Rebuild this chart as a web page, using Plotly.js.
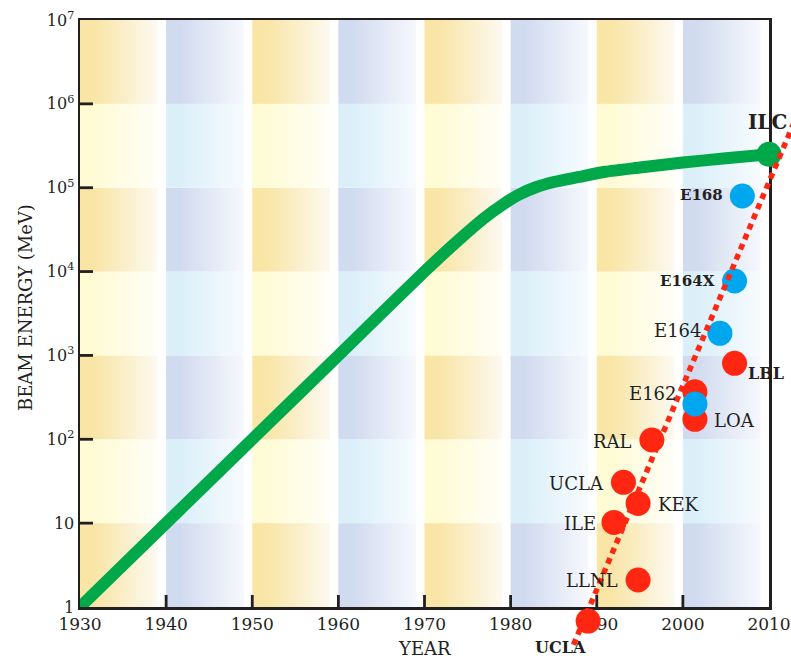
<!DOCTYPE html>
<html><head><meta charset="utf-8">
<script src="https://cdn.plot.ly/plotly-3.0.1.min.js"></script>
<style>html,body{margin:0;padding:0;background:#fff}</style>
</head><body><div id="chart" style="width:791px;height:658px"></div>
<script>
// ---------- data ----------
const yearTicks = [1930, 1940, 1950, 1960, 1970, 1980, 1990, 2000, 2010];
const energyTicks = [1, 10, 100, 1e3, 1e4, 1e5, 1e6, 1e7];
const energyTickText = ['1', '10', '10<sup>2</sup>', '10<sup>3</sup>', '10<sup>4</sup>', '10<sup>5</sup>', '10<sup>6</sup>', '10<sup>7</sup>'];

const envelopeYears  = [1930, 1940, 1950, 1960, 1970, 1974, 1977, 1979, 1981, 1983, 1985, 1988, 1991, 1995, 2000, 2005, 2010];
const envelopeEnergy = [1, 10, 100, 1000, 1e4, 2.4e4, 4.4e4, 6.2e4, 8.3e4, 1.02e5, 1.17e5, 1.35e5, 1.55e5, 1.74e5, 2.0e5, 2.24e5, 2.5e5];

const ilcNames  = ['ILC'];
const ilcYears  = [2010];
const ilcEnergy = [2.5e5];

const laserNames  = ['UCLA', 'LLNL', 'ILE', 'KEK', 'UCLA', 'RAL', 'LOA', '', 'LBL'];
const laserYears  = [1989.0, 1994.8, 1992.0, 1994.8, 1993.1, 1996.4, 2001.4, 2001.4, 2006.0];
const laserEnergy = [0.68, 2.1, 10.2, 17.2, 30.7, 98, 173, 369, 805];

const beamNames  = ['E162', 'E164', 'E164X', 'E168'];
const beamYears  = [2001.4, 2004.3, 2006.0, 2006.9];
const beamEnergy = [264, 1836, 7720, 79600];

const trendYears  = [1987.3, 2013];
const trendEnergy = [0.355, 6.3e5];

// ---------- styling / layout helpers ----------
const W = 791, H = 658;
const frame = {l: 80, r: 769, t: 20, b: 607};
const xDom = [frame.l / W, frame.r / W];
const yDom = [(H - frame.b) / H, (H - frame.t) / H];
const xR = [1930, 2010], yR = [0, 7];
const FONT = 'DejaVu Serif, Liberation Serif, serif';
const INK = '#231f20';
const RED = '#ff2712', BLUE = '#00a7ee', GREEN = '#00a84a';

// full-figure axes with identical scale (marks that leave the frame)
const xs = (xR[1] - xR[0]) / (xDom[1] - xDom[0]);
const ys = (yR[1] - yR[0]) / (yDom[1] - yDom[0]);
const x2R = [xR[0] - xDom[0] * xs, xR[1] + (1 - xDom[1]) * xs];
const y2R = [yR[0] - yDom[0] * ys, yR[1] + (1 - yDom[1]) * ys];

// background: decade columns (yellow / blue) x decade rows (dark / light), horizontal gradients
function backgroundSVG() {
  const cw = 100, rh = 100, nc = (xR[1] - xR[0]) / 10, nr = yR[1] - yR[0];
  const pal = {
    yd: ['#f9e5a6', '#fcf9f0'], yl: ['#fefbd5', '#fffef8'],
    bd: ['#d1dbef', '#f6f8fd'], bl: ['#dbeff9', '#f7fbfe']
  };
  let defs = '', rects = '';
  Object.keys(pal).forEach(k => {
    defs += `<linearGradient id="${k}" x1="0" x2="1" y1="0" y2="0">` +
      `<stop offset="0" stop-color="${pal[k][0]}"/><stop offset="0.18" stop-color="${pal[k][0]}"/>` +
      `<stop offset="1" stop-color="${pal[k][1]}"/></linearGradient>`;
  });
  for (let c = 0; c < nc; c++) {
    for (let r = 0; r < nr; r++) {
      const key = (c % 2 === 0 ? 'y' : 'b') + (r % 2 === 0 ? 'd' : 'l');
      const y = (nr - 1 - r) * rh;
      rects += `<rect x="${c * cw}" y="${y}" width="${cw * 0.9}" height="${rh}" fill="url(#${key})"/>`;
    }
  }
  const svg = `<svg xmlns="http://www.w3.org/2000/svg" width="${nc * cw}" height="${nr * rh}" viewBox="0 0 ${nc * cw} ${nr * rh}" preserveAspectRatio="none"><defs>${defs}</defs>${rects}</svg>`;
  return 'data:image/svg+xml;charset=utf-8,' + encodeURIComponent(svg);
}

// inside tick marks, built from the tick arrays and the axis scale
const X_TICKLEN = 12, Y_TICKLEN = 13;
const pxPerYear = (frame.r - frame.l) / (xR[1] - xR[0]);
const pxPerDecade = (frame.b - frame.t) / (yR[1] - yR[0]);
const tickX = [], tickY = [];
yearTicks.slice(1, -1).forEach(t => { tickX.push(t, t, null); tickY.push(energyTicks[0], energyTicks[0] * Math.pow(10, X_TICKLEN / pxPerDecade), null); });
energyTicks.slice(1, -1).forEach(v => { tickX.push(xR[0], xR[0] + Y_TICKLEN / pxPerYear, null); tickY.push(v, v, null); });

// ---------- traces ----------
const traces = [
  {x: envelopeYears, y: envelopeEnergy, type: 'scatter', mode: 'lines',
   line: {color: GREEN, width: 12, shape: 'spline', smoothing: 0.6}, hoverinfo: 'skip', xaxis: 'x', yaxis: 'y'},
  {x: tickX, y: tickY, type: 'scatter', mode: 'lines', connectgaps: false,
   line: {color: INK, width: 2.8}, hoverinfo: 'skip', xaxis: 'x2', yaxis: 'y2'},
  {x: laserYears, y: laserEnergy, type: 'scatter', mode: 'markers',
   marker: {color: RED, size: 25, line: {width: 0}}, xaxis: 'x2', yaxis: 'y2'},
  {x: beamYears, y: beamEnergy, type: 'scatter', mode: 'markers',
   marker: {color: BLUE, size: 25, line: {width: 0}}, xaxis: 'x2', yaxis: 'y2'},
  {x: ilcYears, y: ilcEnergy, type: 'scatter', mode: 'markers',
   marker: {color: GREEN, size: 25, line: {width: 0}}, xaxis: 'x2', yaxis: 'y2'},
  {x: trendYears, y: trendEnergy, type: 'scatter', mode: 'lines',
   line: {color: RED, width: 5.5, dash: '6px,5px'}, xaxis: 'x2', yaxis: 'y2'}
];

// ---------- point labels ----------
const laserLabelStyle = [
  {a: 'center', dx: -28, dy: -26, size: 16, bold: true},
  {a: 'right', dx: -19, dy: -1}, {a: 'right', dx: -17, dy: -1},
  {a: 'left', dx: 19, dy: -1}, {a: 'right', dx: -18, dy: -1},
  {a: 'right', dx: -19, dy: -1}, {a: 'left', dx: 18, dy: -1}, null,
  {a: 'left', dx: 12, dy: -10, size: 16, bold: true}
];
const beamLabelStyle = [
  {a: 'right', dx: -17, dy: 10}, {a: 'right', dx: -17, dy: 3},
  {a: 'right', dx: -19, dy: 0, size: 15, bold: true}, {a: 'right', dx: -18, dy: 1, size: 15, bold: true}
];
const ilcLabelStyle = [{a: 'center', dx: -2, dy: 32, size: 20, bold: true}];

const annotations = [];
function addLabels(names, xs_, ys_, styles) {
  names.forEach((n, i) => {
    const s = styles[i];
    if (!n || !s) return;
    annotations.push({
      x: xs_[i], y: Math.log10(ys_[i]), xref: 'x2', yref: 'y2', showarrow: false,
      text: s.bold ? `<b>${n}</b>` : n, xanchor: s.a, yanchor: 'middle',
      xshift: s.dx, yshift: s.dy, borderpad: 0,
      font: {family: FONT, size: s.size || 18, color: INK}
    });
  });
}
addLabels(laserNames, laserYears, laserEnergy, laserLabelStyle);
addLabels(beamNames, beamYears, beamEnergy, beamLabelStyle);
addLabels(ilcNames, ilcYears, ilcEnergy, ilcLabelStyle);

annotations.push({text: 'YEAR', xref: 'paper', yref: 'paper', x: (frame.l + frame.r) / 2 / W, y: 1 - 648 / H,
  showarrow: false, xanchor: 'center', yanchor: 'middle', font: {family: FONT, size: 18, color: INK}});
annotations.push({text: 'BEAM ENERGY (MeV)', xref: 'paper', yref: 'paper', x: 25 / W, y: 1 - 308 / H,
  showarrow: false, textangle: -90, xanchor: 'center', yanchor: 'middle', font: {family: FONT, size: 18, color: INK}});

const axisCommon = {showgrid: false, zeroline: false, showline: true, mirror: true, linecolor: INK, linewidth: 2.5,
  ticks: 'inside', ticklen: 0.1, tickcolor: 'rgba(0,0,0,0)', layer: 'above traces', fixedrange: true};

const layout = {
  width: W, height: H, margin: {l: 0, r: 0, t: 0, b: 0, pad: 0},
  paper_bgcolor: '#ffffff', plot_bgcolor: 'rgba(0,0,0,0)', showlegend: false,
  xaxis: Object.assign({}, axisCommon, {domain: xDom, range: xR, anchor: 'y', tickmode: 'array', tickvals: yearTicks,
    ticktext: yearTicks.map(String), tickfont: {family: FONT, size: 17, color: INK}}),
  yaxis: Object.assign({}, axisCommon, {domain: yDom, type: 'log', range: yR, anchor: 'x', tickmode: 'array',
    tickvals: energyTicks, ticktext: energyTickText, tickfont: {family: FONT, size: 16, color: INK}}),
  xaxis2: {domain: [0, 1], range: x2R, anchor: 'y2', visible: false, fixedrange: true},
  yaxis2: {domain: [0, 1], range: y2R, type: 'log', anchor: 'x2', visible: false, fixedrange: true},
  images: [{source: backgroundSVG(), xref: 'x', yref: 'paper', x: xR[0], y: yDom[1], sizex: xR[1] - xR[0],
    sizey: yDom[1] - yDom[0], sizing: 'stretch', xanchor: 'left', yanchor: 'top', layer: 'below'}],
  annotations: annotations
};

Plotly.newPlot('chart', traces, layout, {displayModeBar: false, staticPlot: true});
</script></body></html>
